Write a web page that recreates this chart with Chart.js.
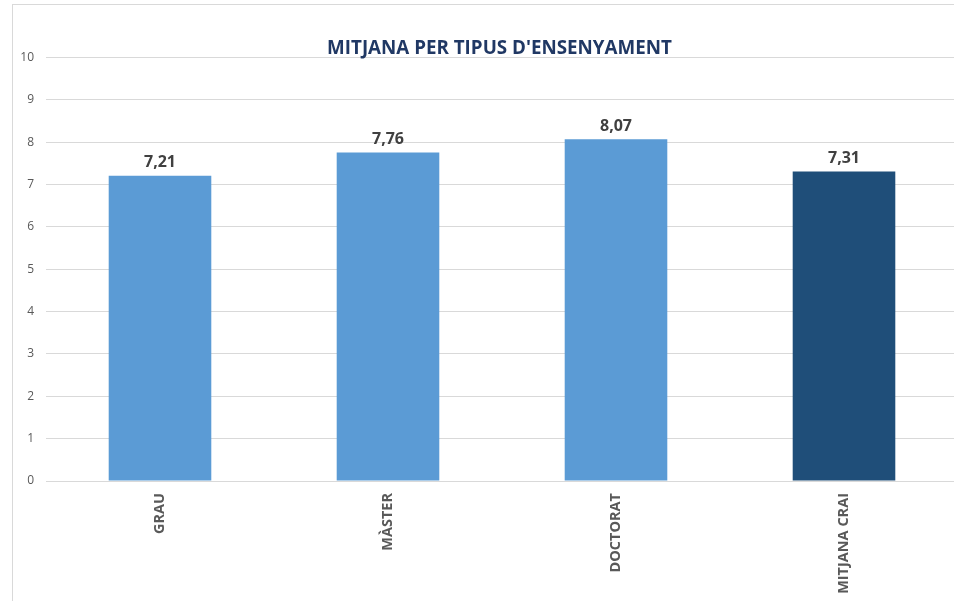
<!DOCTYPE html>
<html>
<head>
<meta charset="utf-8">
<script src="https://cdn.jsdelivr.net/npm/chart.js@4"></script>
<style>
  html, body { margin: 0; padding: 0; background: #fff; overflow: hidden; width: 954px; height: 601px; }
  #marc { position: absolute; left: 12px; top: 4px; width: 973px; height: 640px; border: 1px solid #d9d9d9; }
  #wrap { position: absolute; left: 0; top: 0; width: 973px; height: 626px; }
</style>
</head>
<body>
<div id="marc"><div id="wrap"><canvas id="grafic"></canvas></div></div>
<script>
var categories = ['GRAU', 'MÀSTER', 'DOCTORAT', 'MITJANA CRAI']
var mitjanes = [7.21, 7.76, 8.07, 7.31]
var colors = ['#5B9BD5', '#5B9BD5', '#5B9BD5', '#1F4E79']
var titol = "MITJANA PER TIPUS D'ENSENYAMENT"

// etiquetes de valor damunt de cada barra
var etiquetes = {
   id: 'etiquetes',
   afterDatasetsDraw(chart) {
      var ctx = chart.ctx
      var meta = chart.getDatasetMeta(0)
      ctx.save()
      ctx.font = 'bold 16px "Open Sans", sans-serif'
      ctx.fillStyle = '#404040'
      ctx.textAlign = 'center'
      ctx.textBaseline = 'bottom'
      meta.data.forEach(function(bar, i) {
         ctx.fillText(mitjanes[i].toFixed(2).replace('.', ','), bar.x, bar.y - 5)
      })
      ctx.restore()
   }
}

new Chart(document.getElementById('grafic'), {
   type: 'bar',
   data: {
      labels: categories,
      datasets: [{
         data: mitjanes,
         backgroundColor: colors,
         borderWidth: 0,
         barPercentage: 0.45,
         categoryPercentage: 1
      }]
   },
   options: {
      responsive: true,
      maintainAspectRatio: false,
      animation: false,
      layout: { padding: 0 },
      plugins: {
         legend: { display: false },
         tooltip: { enabled: false },
         title: {
            display: true,
            text: titol,
            color: '#203864',
            font: { family: '"Open Sans", sans-serif', size: 18.8, weight: 'bold' },
            padding: { top: 32, bottom: -2 }
         }
      },
      scales: {
         y: {
            min: 0,
            max: 10,
            ticks: { stepSize: 1, color: '#595959', padding: 12, font: { family: '"Open Sans", sans-serif', size: 12 } },
            grid: { color: '#d9d9d9', drawTicks: false },
            border: { display: false },
            afterFit: function(scale) { scale.width = 33 }
         },
         // eix buit a la dreta, només per deixar marge
         dreta: {
            type: 'linear',
            position: 'right',
            ticks: { display: false },
            grid: { display: false, drawTicks: false },
            border: { display: false },
            afterFit: function(scale) { scale.width = 28 }
         },
         x: {
            ticks: { minRotation: 90, maxRotation: 90, padding: 4, color: '#595959', font: { family: '"Open Sans", sans-serif', size: 14.5, weight: 'bold' } },
            grid: { display: false },
            border: { display: true, color: '#d9d9d9' },
            afterFit: function(scale) { scale.height = 150 }
         }
      }
   },
   plugins: [etiquetes]
})
</script>
</body>
</html>
